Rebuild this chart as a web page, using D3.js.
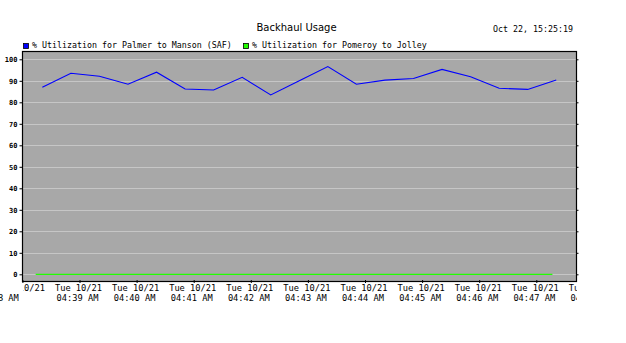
<!DOCTYPE html>
<html><head><meta charset="utf-8">
<script src="https://cdn.jsdelivr.net/npm/d3@7/dist/d3.min.js"></script>
<style>
html,body{margin:0;padding:0;background:#fff;}
svg{display:block;}
</style></head>
<body><svg id="c" width="626" height="343"></svg>
<script>
const title = "Backhaul Usage";
const timestamp = "Oct 22, 15:25:19";
const seriesNames = ["% Utilization for Palmer to Manson (SAF)", "% Utilization for Pomeroy to Jolley"];
const seriesColors = ["#0000ff", "#22ff00"];
// sample times (seconds after 04:38:00)
const blueTimes = [22,52,82,112,142,172,202,232,262,292,322,352,382,412,442,472,502,532,562];
const blueValues = [87.0,93.5,92.1,88.4,94.0,86.2,85.7,91.6,83.4,90.0,96.6,88.4,90.3,91.1,95.3,91.9,86.5,86.0,90.4];
const greenTimes = [15,45,75,105,135,165,195,225,255,285,315,345,375,405,435,465,495,525,558];
const greenValues = [0,0,0,0,0,0,0,0,0,0,0,0,0,0,0,0,0,0,0];
const yTicks = [0,10,20,30,40,50,60,70,80,90,100];
const xTickMinutes = [0,1,2,3,4,5,6,7,8,9,10];
const xTickLine1 = ["Tue 10/21","Tue 10/21","Tue 10/21","Tue 10/21","Tue 10/21","Tue 10/21","Tue 10/21","Tue 10/21","Tue 10/21","Tue 10/21","Tue 10/21"];
const xTickLine2 = ["04:38 AM","04:39 AM","04:40 AM","04:41 AM","04:42 AM","04:43 AM","04:44 AM","04:45 AM","04:46 AM","04:47 AM","04:48 AM"];

const base = new Date(2025, 9, 21, 4, 38, 0);
const t = s => new Date(base.getTime() + s*1000);

const svg = d3.select("#c");
const plot = {left:22, right:577, top:51.5, bottom:281.5};

const x = d3.scaleTime().domain([base, t(600)]).range([21.4, 592.4]);
const y = d3.scaleLinear().domain([0,100]).range([274.3, 59.3]);

const mono = "'DejaVu Sans Mono', monospace";

// Title
svg.append("text").attr("x", 296.5).attr("y", 30.5).attr("text-anchor","middle")
  .attr("font-family","'DejaVu Sans', sans-serif").attr("font-size", 10).attr("fill","#000").text(title);
svg.append("text").attr("x", 573).attr("y", 32.3).attr("text-anchor","end")
  .attr("font-family", mono).attr("font-size", 8.3).attr("fill","#000").text(timestamp);

// Legend
const legX = [23.5, 243.5];
seriesNames.forEach((n,i)=>{
  svg.append("rect").attr("x", legX[i]).attr("y", 43.5).attr("width",5).attr("height",5)
    .attr("fill", seriesColors[i]).attr("stroke","#000").attr("stroke-width",0.8);
  svg.append("text").attr("x", legX[i]+8.5).attr("y", 48).attr("font-family", mono)
    .attr("font-size", 8.3).attr("fill","#000").text(n);
});

// Plot background
svg.append("rect").attr("x", plot.left).attr("y", plot.top).attr("width", plot.right-plot.left)
  .attr("height", plot.bottom-plot.top).attr("fill", "#a8a8a8");

// gridlines
svg.append("g").selectAll("line").data(yTicks).join("line")
  .attr("x1", plot.left).attr("x2", plot.right)
  .attr("y1", d=>Math.round(y(d))+0.5).attr("y2", d=>Math.round(y(d))+0.5)
  .attr("stroke", "#c6c6c6").attr("stroke-width", 1);

svg.append("clipPath").attr("id","pc").append("rect")
  .attr("x", plot.left).attr("y", plot.top).attr("width", plot.right-plot.left).attr("height", plot.bottom-plot.top);

const line = d3.line().x(d=>x(t(d[0]))).y(d=>y(d[1]));
const g = svg.append("g").attr("clip-path","url(#pc)");
g.append("path").datum(greenTimes.map((s,i)=>[s, greenValues[i]]))
  .attr("d", line).attr("fill","none").attr("stroke", seriesColors[1]).attr("stroke-width",1.2);
g.append("path").datum(blueTimes.map((s,i)=>[s, blueValues[i]]))
  .attr("d", line).attr("fill","none").attr("stroke", seriesColors[0]).attr("stroke-width",1.1);

// border
svg.append("rect").attr("x", plot.left+0.5).attr("y", plot.top).attr("width", plot.right-plot.left-1)
  .attr("height", plot.bottom-plot.top).attr("fill","none").attr("stroke","#000").attr("stroke-width",1.2);

// Y axis left
const yAxisL = d3.axisLeft(y).tickValues(yTicks).tickSize(3).tickPadding(2).tickFormat(d3.format("d"));
const gy = svg.append("g").attr("transform", `translate(${plot.left+0.5},0)`).call(yAxisL);
gy.select(".domain").remove();
gy.selectAll("text").attr("font-family", mono).attr("font-size", 7).attr("font-weight","bold").attr("fill","#000");
gy.selectAll("line").attr("stroke","#000");
// Y axis right ticks
const yAxisR = d3.axisRight(y).tickValues(yTicks).tickSize(2).tickFormat("");
const gyr = svg.append("g").attr("transform", `translate(${plot.right-0.5},0)`).call(yAxisR);
gyr.select(".domain").remove();
gyr.selectAll("line").attr("stroke","#000");

// X axis
const xTickDates = xTickMinutes.map(m=>t(m*60));
const xAxis = d3.axisBottom(x).tickValues(xTickDates).tickSize(3).tickFormat("");
const gx = svg.append("g").attr("transform", `translate(1,${plot.bottom-1.5})`).call(xAxis);
gx.select(".domain").remove();
gx.selectAll("line").attr("stroke","#000");
gx.selectAll(".tick").filter(d=>x(d)+1 < plot.left || x(d)+1 > plot.right).remove();

// X tick labels with clipping
svg.append("clipPath").attr("id","lc1").append("rect").attr("x", 23.5).attr("y", 280).attr("width", 577-23.5).attr("height", 30);
svg.append("clipPath").attr("id","lc2").append("rect").attr("x", 0).attr("y", 280).attr("width", 577).attr("height", 30);
const l1 = svg.append("g").attr("clip-path","url(#lc1)");
const l2 = svg.append("g").attr("clip-path","url(#lc2)");
xTickDates.forEach((d,i)=>{
  const cx = x(d);
  l1.append("text").attr("x", cx).attr("y", 290.5).attr("text-anchor","middle")
    .attr("font-family", mono).attr("font-size", 8.7).attr("fill","#000").text(xTickLine1[i]);
  l2.append("text").attr("x", i===0 ? cx-23.5 : cx-1).attr("y", 300.5).attr("text-anchor","middle")
    .attr("font-family", mono).attr("font-size", 8.7).attr("fill","#000").text(xTickLine2[i]);
});
</script></body></html>
